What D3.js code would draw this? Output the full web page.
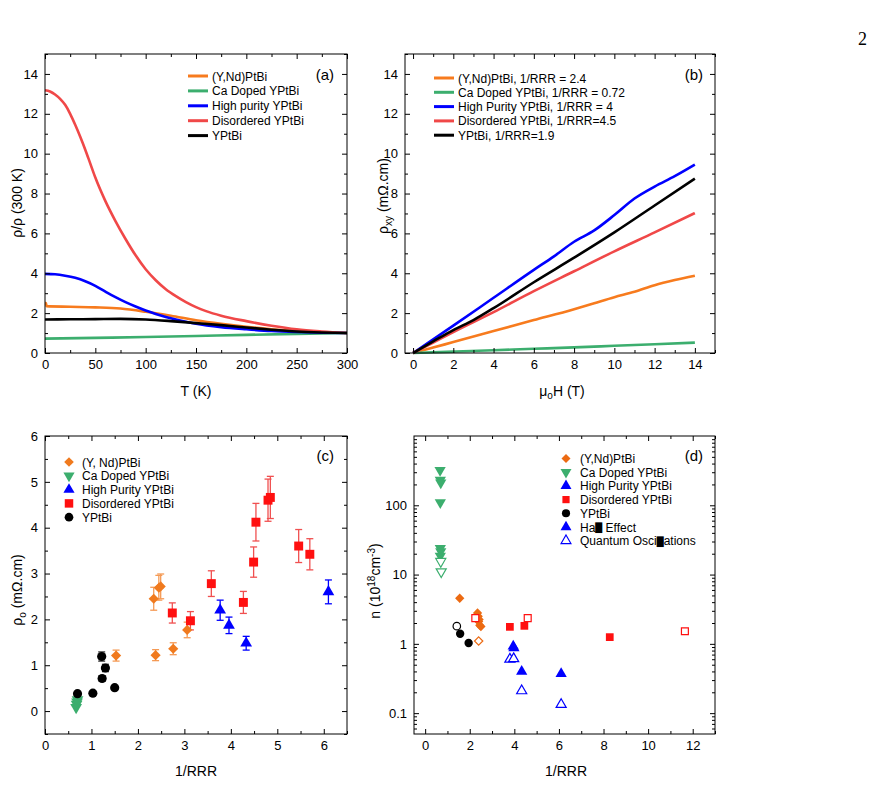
<!DOCTYPE html>
<html lang="en">
<head>
<meta charset="UTF-8">
<title>YPtBi transport</title>
<script src="https://d3js.org/d3.v7.min.js"></script>
<style>
  body { margin: 0; background: #fff; }
  text { font-family: "Liberation Sans", Arial, sans-serif; }
</style>
</head>
<body>
<script>
// ---- data ----
var seriesNames = ['(Y,Nd)PtBi', 'Ca Doped YPtBi', 'High purity YPtBi', 'Disordered YPtBi', 'YPtBi'];
var lineColors = ['#f77b1e', '#3cae6e', '#0000ff', '#f04848', '#000000'];

// (a) rho/rho(300K) vs T
var rhoOrange = [[0,2.5],[1,2.5],[1.5,2.35],[25,2.32],[50,2.29],[75,2.23],[100,2.07],[125,1.87],[150,1.64],[175,1.46],[200,1.31],[225,1.19],[250,1.1],[275,1.04],[300,1.0]];
var rhoGreen = [[0,0.72],[50,0.76],[100,0.8],[150,0.85],[200,0.91],[250,0.96],[300,1.0]];
var rhoBlue = [[0,3.97],[10,3.95],[20,3.88],[30,3.77],[40,3.6],[50,3.37],[60,3.08],[70,2.8],[80,2.55],[90,2.33],[100,2.13],[110,1.96],[120,1.81],[130,1.68],[140,1.57],[150,1.47],[175,1.3],[200,1.19],[225,1.1],[250,1.05],[275,1.02],[300,1.0]];
var rhoRed = [[0,13.18],[5,13.12],[10,12.97],[15,12.75],[20,12.45],[25,12.0],[30,11.45],[35,10.85],[40,10.2],[45,9.5],[50,8.8],[60,7.62],[70,6.62],[80,5.72],[90,4.9],[100,4.2],[110,3.65],[120,3.2],[130,2.85],[140,2.55],[150,2.3],[160,2.1],[175,1.87],[200,1.6],[225,1.37],[250,1.19],[275,1.08],[300,1.0]];
var rhoBlack = [[0,1.68],[25,1.69],[50,1.7],[75,1.71],[100,1.68],[125,1.6],[150,1.5],[175,1.4],[200,1.28],[225,1.17],[250,1.08],[275,1.03],[300,1.0]];
var panelACurves = [rhoOrange, rhoGreen, rhoBlue, rhoRed, rhoBlack];

// (b) rho_xy vs field
var hallNames = ['(Y,Nd)PtBi, 1/RRR = 2.4', 'Ca Doped YPtBi, 1/RRR = 0.72', 'High Purity YPtBi, 1/RRR = 4', 'Disordered YPtBi, 1/RRR=4.5', 'YPtBi, 1/RRR=1.9'];
var hallOrange = [[0,0],[1,0.27],[2,0.55],[4,1.1],[6,1.65],[8,2.2],[9,2.5],[10,2.8],[11,3.07],[12,3.4],[13,3.66],[14,3.88]];
var hallGreen = [[0,0],[2,0.07],[4,0.14],[6,0.21],[8,0.28],[10,0.36],[12,0.44],[14,0.52]];
var hallBlue = [[0,0],[1,0.68],[2,1.37],[4,2.77],[6,4.17],[7,4.85],[8,5.58],[9,6.15],[10,6.92],[11,7.75],[12,8.35],[13,8.87],[14,9.45]];
var hallRed = [[0,0],[1,0.52],[2,1.05],[4,2.05],[6,3.1],[8,4.1],[10,5.1],[12,6.05],[14,7.02]];
var hallBlack = [[0,0],[1,0.58],[2,1.15],[3,1.65],[4,2.25],[6,3.55],[8,4.78],[10,6.05],[12,7.4],[14,8.75]];
var panelBCurves = [hallOrange, hallGreen, hallBlue, hallRed, hallBlack];

// (c) rho_0 vs 1/RRR  [x, y, err]
var cNames = ['(Y, Nd)PtBi', 'Ca Doped YPtBi', 'High Purity YPtBi', 'Disordered YPtBi', 'YPtBi'];
var cOrange = [[1.53,1.21,0.12],[2.34,2.45,0.25],[2.45,2.69,0.27],[2.49,2.72,0.27],[2.38,1.22,0.12],[2.76,1.36,0.13],[3.06,1.77,0.17]];
var cGreen = [[0.67,0.08,0],[0.68,0.15,0],[0.69,0.2,0],[0.7,0.25,0]];
var cBlue = [[3.77,2.2,0.22],[3.96,1.87,0.18],[4.33,1.48,0.15],[6.1,2.6,0.26]];
var cRed = [[2.74,2.14,0.22],[3.13,1.97,0.2],[3.58,2.78,0.28],[4.27,2.37,0.24],[4.49,3.25,0.33],[4.54,4.12,0.41],[4.8,4.6,0.46],[4.85,4.66,0.46],[5.46,3.6,0.36],[5.7,3.42,0.34]];
var cBlack = [[0.7,0.38,0],[1.03,0.39,0],[1.22,1.19,0.1],[1.23,0.71,0.06],[1.3,0.94,0.08],[1.5,0.51,0]];

// (d) carrier density vs 1/RRR  [x, n, open?]
var dNames = ['(Y,Nd)PtBi', 'Ca Doped YPtBi', 'High Purity YPtBi', 'Disordered YPtBi', 'YPtBi', ['Ha', ' Effect'], ['Quantum Osci', 'ations']];
var dOrange = [[1.55,4.55,0],[2.35,2.8,0],[2.38,2.5,0],[2.42,2.25,0],[2.4,2.1,0],[2.45,1.85,0],[2.5,1.78,0],[2.4,1.1,1]];
var dGreen = [[0.67,320,0],[0.68,232,0],[0.7,212,0],[0.68,110,0],[0.68,24,0],[0.7,21.5,0],[0.68,18.5,0],[0.7,15.5,1],[0.72,11,1]];
var dBlue = [[3.95,0.92,0],[3.98,0.87,0],[4.33,0.4,0],[6.1,0.37,0],[3.8,0.6,1],[3.97,0.61,1],[4.33,0.21,1],[6.1,0.133,1]];
var dRed = [[3.8,1.76,0],[4.45,1.82,0],[8.28,1.25,0],[2.25,2.35,1],[4.6,2.35,1],[11.65,1.52,1]];
var dBlack = [[1.57,1.4,0],[1.95,1.03,0],[1.42,1.8,1]];

var markerColors = ['#f07a1e', '#3cae6e', '#0000ff', '#ff1010', '#000000'];

// ---- canvas ----
var svg = d3.select('body').append('svg').attr('width', 878).attr('height', 804);

svg.append('text').attr('x', 867).attr('y', 45).attr('text-anchor', 'end')
   .style('font-family', '"Liberation Serif", serif').style('font-size', '18px').text('2');

// frame with inward ticks on all four sides
function frame(x, y, opts) {
  var g = svg.append('g');
  var x0 = x.range()[0], x1 = x.range()[1], y0 = y.range()[0], y1 = y.range()[1];
  var sides = [
    [d3.axisBottom(x), 'translate(0,' + y0 + ')', opts.xTicks, opts.xFmt],
    [d3.axisTop(x), 'translate(0,' + y1 + ')', opts.xTicks, null],
    [d3.axisLeft(y), 'translate(' + x0 + ',0)', opts.yTicks, opts.yFmt],
    [d3.axisRight(y), 'translate(' + x1 + ',0)', opts.yTicks, null]
  ];
  sides.forEach(function(s) {
    var major = s[0].tickValues(s[2]).tickSize(-5).tickSizeOuter(0).tickPadding(7)
                    .tickFormat(s[3] ? s[3] : function() { return ''; });
    var ga = g.append('g').attr('transform', s[1]).call(major);
    ga.select('.domain').remove();
    ga.selectAll('text').style('font-size', '13px').style('font-family', '"Liberation Sans", Arial, sans-serif');
  });
  // minor ticks
  [[d3.axisBottom, x, 'translate(0,' + y0 + ')', opts.xMinor],
   [d3.axisTop, x, 'translate(0,' + y1 + ')', opts.xMinor],
   [d3.axisLeft, y, 'translate(' + x0 + ',0)', opts.yMinor],
   [d3.axisRight, y, 'translate(' + x1 + ',0)', opts.yMinor]].forEach(function(m) {
    var ax = m[0](m[1]).tickValues(m[3]).tickSize(-3).tickSizeOuter(0).tickFormat('');
    var gm = g.append('g').attr('transform', m[2]).call(ax);
    gm.select('.domain').remove();
  });
  g.append('rect').attr('x', x0).attr('y', y1).attr('width', x1 - x0).attr('height', y0 - y1)
   .attr('fill', 'none').attr('stroke', '#000').attr('stroke-width', 1);
  return g;
}

function range(a, b, s) { return d3.range(a, b + s / 2, s); }

// ---- panel (a) ----
var xA = d3.scaleLinear().domain([0, 300]).range([45, 347]);
var yA = d3.scaleLinear().domain([0, 15]).range([353, 54]);
var lineA = d3.line().x(function(d) { return xA(d[0]); }).y(function(d) { return yA(d[1]); }).curve(d3.curveMonotoneX);
panelACurves.forEach(function(c, i) {
  svg.append('path').datum(c).attr('d', lineA).attr('fill', 'none')
     .attr('stroke', lineColors[i]).attr('stroke-width', 2.6);
});
frame(xA, yA, { xTicks: range(0, 300, 50), xMinor: range(25, 275, 50), xFmt: d3.format('d'),
                yTicks: range(0, 14, 2), yMinor: range(1, 15, 2), yFmt: d3.format('d') });
seriesNames.forEach(function(n, i) {
  var yy = 76 + i * 14.9;
  svg.append('line').attr('x1', 188).attr('x2', 208).attr('y1', yy).attr('y2', yy)
     .attr('stroke', lineColors[i]).attr('stroke-width', 3);
  svg.append('text').attr('x', 212).attr('y', yy + 4.5).style('font-size', '12px').text(n);
});
svg.append('text').attr('x', 334).attr('y', 80).attr('text-anchor', 'end').style('font-size', '15px').text('(a)');
svg.append('text').attr('x', 196).attr('y', 396).attr('text-anchor', 'middle').style('font-size', '14px').text('T (K)');
svg.append('text').attr('transform', 'translate(22,203) rotate(-90)').attr('text-anchor', 'middle')
   .style('font-size', '14px').text('\u03C1/\u03C1 (300 K)');

// ---- panel (b) ----
var xB = d3.scaleLinear().domain([-0.4, 15]).range([405, 715]);
var yB = d3.scaleLinear().domain([0, 15]).range([353, 54]);
var lineB = d3.line().x(function(d) { return xB(d[0]); }).y(function(d) { return yB(d[1]); }).curve(d3.curveMonotoneX);
panelBCurves.forEach(function(c, i) {
  svg.append('path').datum(c).attr('d', lineB).attr('fill', 'none')
     .attr('stroke', lineColors[i]).attr('stroke-width', 2.6);
});
frame(xB, yB, { xTicks: range(0, 14, 2), xMinor: range(1, 15, 2), xFmt: d3.format('d'),
                yTicks: range(0, 14, 2), yMinor: range(1, 15, 2), yFmt: d3.format('d') });
hallNames.forEach(function(n, i) {
  var yy = 78 + i * 14.3;
  svg.append('line').attr('x1', 434).attr('x2', 454).attr('y1', yy).attr('y2', yy)
     .attr('stroke', lineColors[i]).attr('stroke-width', 3);
  svg.append('text').attr('x', 458).attr('y', yy + 4.5).style('font-size', '12px').text(n);
});
svg.append('text').attr('x', 703).attr('y', 80).attr('text-anchor', 'end').style('font-size', '15px').text('(b)');
var tb = svg.append('text').attr('x', 562).attr('y', 396).attr('text-anchor', 'middle').style('font-size', '14px');
tb.append('tspan').text('\u03BC');
tb.append('tspan').attr('dy', 3).style('font-size', '10px').text('o');
tb.append('tspan').attr('dy', -3).text('H (T)');
var yb = svg.append('text').attr('transform', 'translate(388,196) rotate(-90)').attr('text-anchor', 'middle').style('font-size', '14px');
yb.append('tspan').text('\u03C1');
yb.append('tspan').attr('dy', 4).style('font-size', '10px').text('xy');
yb.append('tspan').attr('dy', -4).text(' (m\u03A9.cm)');

// ---- panel (c) ----
var xC = d3.scaleLinear().domain([0, 6.5]).range([45, 347]);
var yC = d3.scaleLinear().domain([-0.5, 6]).range([734, 436]);
frame(xC, yC, { xTicks: range(0, 6, 1), xMinor: range(0.5, 6.5, 1), xFmt: d3.format('d'),
                yTicks: range(0, 6, 1), yMinor: range(-0.5, 5.5, 1), yFmt: d3.format('d') });

var symTypes = [d3.symbolDiamond2, d3.symbolTriangle, d3.symbolTriangle, d3.symbolSquare, d3.symbolCircle];
var symRot = [0, 180, 0, 0, 0];
var symSizeC = [66, 60, 60, 80, 66];
var cSets = [cOrange, cGreen, cBlue, cRed, cBlack];
var errColors = ['#f59a55', '#3cae6e', '#0000ff', '#f05050', '#333333'];

cSets.forEach(function(set, i) {
  set.filter(function(d) { return d[2] > 0; }).forEach(function(d) {
    var g = svg.append('g').attr('stroke', errColors[i]).attr('stroke-width', 1.3);
    var px = xC(d[0]);
    g.append('line').attr('x1', px).attr('x2', px).attr('y1', yC(d[1] - d[2])).attr('y2', yC(d[1] + d[2]));
    g.append('line').attr('x1', px - 3.5).attr('x2', px + 3.5).attr('y1', yC(d[1] - d[2])).attr('y2', yC(d[1] - d[2]));
    g.append('line').attr('x1', px - 3.5).attr('x2', px + 3.5).attr('y1', yC(d[1] + d[2])).attr('y2', yC(d[1] + d[2]));
  });
});
cSets.forEach(function(set, i) {
  svg.selectAll(null).data(set).enter().append('path')
     .attr('d', d3.symbol().type(symTypes[i]).size(symSizeC[i]))
     .attr('transform', function(d) { return 'translate(' + xC(d[0]) + ',' + yC(d[1]) + ') rotate(' + symRot[i] + ')'; })
     .attr('fill', markerColors[i]);
});
cNames.forEach(function(n, i) {
  var yy = 462 + i * 13.8;
  svg.append('path').attr('d', d3.symbol().type(symTypes[i]).size(symSizeC[i] * 0.9)())
     .attr('transform', 'translate(69,' + yy + ') rotate(' + symRot[i] + ')').attr('fill', markerColors[i]);
  svg.append('text').attr('x', 82).attr('y', yy + 4.5).style('font-size', '12px').text(n);
});
svg.append('text').attr('x', 334).attr('y', 461).attr('text-anchor', 'end').style('font-size', '15px').text('(c)');
svg.append('text').attr('x', 196).attr('y', 776).attr('text-anchor', 'middle').style('font-size', '14px').text('1/RRR');
var yc = svg.append('text').attr('transform', 'translate(22,590) rotate(-90)').attr('text-anchor', 'middle').style('font-size', '14px');
yc.append('tspan').text('\u03C1');
yc.append('tspan').attr('dy', 4).style('font-size', '10px').text('o');
yc.append('tspan').attr('dy', -4).text(' (m\u03A9.cm)');

// ---- panel (d) ----
var xD = d3.scaleLinear().domain([-0.5, 13]).range([414, 715]);
var yD = d3.scaleLog().domain([0.05, 1000]).range([734, 436]);
var logMinor = [];
[0.01, 0.1, 1, 10, 100].forEach(function(dec) {
  d3.range(2, 10).forEach(function(k) {
    var v = dec * k;
    if (v > 0.05 && v < 1000) logMinor.push(v);
  });
});
frame(xD, yD, { xTicks: range(0, 12, 2), xMinor: range(1, 13, 2), xFmt: d3.format('d'),
                yTicks: [0.1, 1, 10, 100], yMinor: logMinor, yFmt: function(d) { return d < 1 ? '0.1' : d3.format('d')(d); } });
var dSets = [dOrange, dGreen, dBlue, dRed, dBlack];
var dColors = ['#ec6a12', '#3cae6e', '#0000ff', '#ff1010', '#000000'];
var symSizeD = [55, 55, 55, 60, 55];
dSets.forEach(function(set, i) {
  svg.selectAll(null).data(set).enter().append('path')
     .attr('d', d3.symbol().type(symTypes[i]).size(function(d) { return d[2] ? symSizeD[i] * 0.8 : symSizeD[i]; }))
     .attr('transform', function(d) { return 'translate(' + xD(d[0]) + ',' + yD(d[1]) + ') rotate(' + symRot[i] + ')'; })
     .attr('fill', function(d) { return d[2] ? '#fff' : dColors[i]; })
     .attr('stroke', function(d) { return d[2] ? dColors[i] : 'none'; })
     .attr('stroke-width', 1.2);
});
var legTypes = symTypes.concat([d3.symbolTriangle, d3.symbolTriangle]);
var legRot = symRot.concat([0, 0]);
var legColors = dColors.concat(['#0000ff', '#0000ff']);
dNames.forEach(function(n, i) {
  var yy = 458.5 + i * 13.7;
  var open = i === 6;
  svg.append('path').attr('d', d3.symbol().type(legTypes[i]).size(open ? 42 : 52)())
     .attr('transform', 'translate(566,' + yy + ') rotate(' + legRot[i] + ')')
     .attr('fill', open ? '#fff' : legColors[i]).attr('stroke', open ? legColors[i] : 'none').attr('stroke-width', 1.2);
  var t = svg.append('text').attr('x', 580).attr('y', yy + 4.5).style('font-size', '12px');
  if (typeof n === 'string') {
    t.text(n);
  } else {
    // the "ll" of the original prints as a solid black bar
    t.append('tspan').text(n[0]);
    t.append('tspan').attr('dy', -0.5).style('font-size', '9px').style('font-family', '"DejaVu Sans", sans-serif').text('\u2588');
    t.append('tspan').attr('dy', 0.5).text(n[1]);
  }
});
svg.append('text').attr('x', 703).attr('y', 461).attr('text-anchor', 'end').style('font-size', '15px').text('(d)');
svg.append('text').attr('x', 566).attr('y', 776).attr('text-anchor', 'middle').style('font-size', '14px').text('1/RRR');
var yd = svg.append('text').attr('transform', 'translate(380,581) rotate(-90)').attr('text-anchor', 'middle').style('font-size', '14px');
yd.append('tspan').text('n (10');
yd.append('tspan').attr('dy', -5).style('font-size', '10px').text('18');
yd.append('tspan').attr('dy', 5).text('cm');
yd.append('tspan').attr('dy', -5).style('font-size', '10px').text('-3');
yd.append('tspan').attr('dy', 5).text(')');
</script>
</body>
</html>
